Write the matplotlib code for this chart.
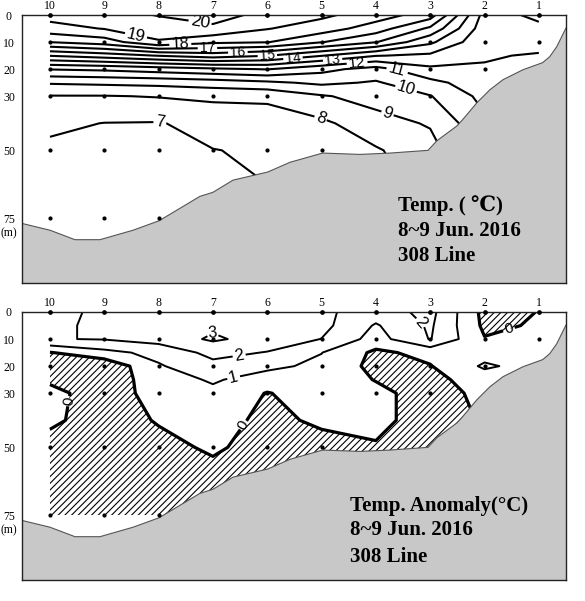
import numpy as np
import matplotlib
matplotlib.use("Agg")
import matplotlib.pyplot as plt
from matplotlib.patches import Polygon

plt.rcParams['hatch.linewidth'] = 0.8
plt.rcParams['hatch.color'] = 'black'

# ---------------- data ----------------
stations = [10, 9, 8, 7, 6, 5, 4, 3, 2, 1]
depths = [0, 5, 10, 15, 20, 25, 30, 40, 50, 60, 75]
depth_ticks = [0, 10, 20, 30, 50, 75]

# temperature profiles (deg C) at the depths above, one list per station
temp_st10 = [19.4, 18.6, 17.02, 14.05, 11.05, 9.1, 7.95, 7.2, 6.8, 6.6, 6.5]
temp_st9 = [19.6, 19.05, 17.5, 14.5, 11.2, 9.2, 7.95, 6.98, 6.8, 6.6, 6.5]
temp_st8 = [20.05, 19.5, 18.9, 15.05, 11.5, 9.3, 8.05, 6.95, 6.8, 6.6, 6.5]
temp_st7 = [20.4, 19.8, 18.2, 15.5, 11.8, 9.5, 8.2, 7.3, 6.98, 6.9, 6.8]
temp_st6 = [19.7, 19.05, 18.05, 15.05, 12.05, 9.8, 8.2, 7.5, 7.1, 7.02, 6.9]
temp_st5 = [19.2, 18.5, 17.05, 14.05, 11.3, 10.2, 8.9, 7.8, 7.3, 7.2, 7.1]
temp_st4 = [18.5, 17.5, 16.05, 13.05, 10.6, 9.9, 9.4, 8.6, 7.9, 7.7, 7.6]
temp_st3 = [17.5, 15.8, 14.2, 12.8, 11.8, 10.7, 9.95, 9.1, 8.6, 8.4, 8.3]
temp_st2 = [12.6, 12.4, 12.2, 12.1, 11.9, 11.6, 11.3, 10.8, 10.5, 10.4, 10.3]
temp_st1 = [13.2, 12.8, 12.4, 11.9, 11.7, 11.5, 11.3, 11.0, 10.8, 10.7, 10.6]

# temperature anomaly profiles (deg C)
anom_st10 = [1.7, 1.8, 1.95, -0.05, -0.8, -0.2, 0.35, 0.2, -0.4, -0.5, -0.5]
anom_st9 = [2.2, 2.2, 2.05, 0.7, -0.8, -0.7, -0.6, -0.5, -0.6, -0.6, -0.5]
anom_st8 = [2.3, 2.4, 2.4, 1.3, 0.9, 0.6, 0.45, 0.08, -0.3, -0.4, -0.4]
anom_st7 = [2.5, 2.8, 3.15, 2.3, 1.7, 1.1, 0.8, 0.5, 0.15, -0.3, -0.4]
anom_st6 = [2.4, 2.5, 2.6, 1.95, 1.2, 0.6, -0.05, -0.3, -0.4, -0.4, -0.4]
anom_st5 = [2.2, 2.3, 1.98, 1.02, 0.8, 0.7, 0.5, 0.2, -0.4, -0.5, -0.5]
anom_st4 = [1.5, 0.9, 0.6, -0.2, -0.3, -0.05, 0.3, 0.3, -0.1, -0.3, -0.3]
anom_st3 = [2.3, 2.15, 2.05, 0.3, -0.05, -0.3, -0.5, -0.5, -0.4, -0.4, -0.4]
anom_st2 = [-0.3, -0.2, 0.05, 0.6, 1.15, 0.5, 0.3, 0.1, 0.05, 0.05, 0.05]
anom_st1 = [0.02, 0.1, 0.5, 0.6, 0.6, 0.5, 0.5, 0.5, 0.5, 0.5, 0.5]

# sampling depths at each station (besides the surface)
sample_depths = {10: [10, 20, 30, 50, 75], 9: [10, 20, 30, 50, 75], 8: [10, 20, 30, 50, 75],
                 7: [10, 20, 30, 50], 6: [10, 20, 30, 50], 5: [10, 20, 30, 50],
                 4: [10, 20, 30], 3: [10, 20, 30], 2: [10, 20], 1: [10]}

# bottom topography (station coordinate, depth m)
bottom_x = [10.515, 10.0, 9.54, 9.08, 8.47, 7.99, 7.24, 7.0, 6.63, 5.99, 5.58, 4.98, 4.29,
            3.74, 3.04, 2.88, 2.51, 2.40, 2.14, 1.90, 1.66, 1.29, 0.93, 0.80, 0.67, 0.50]
bottom_d = [77, 79.5, 83, 83, 79.5, 76, 67, 65.5, 61, 58, 54.4, 51, 51.5,
            51, 50, 46.5, 41, 38.6, 32.4, 27.6, 23.9, 20.2, 17.6, 15.4, 11.7, 4.8]

temp_levels = list(range(7, 21))
temp_label_pos = {20: [(7.24, 3)], 19: [(8.4, 6.3)], 18: [(7.6, 11)], 17: [(7.1, 13.5)],
                  16: [(6.54, 14)], 15: [(6.0, 14.7)], 14: [(5.53, 15.4)], 13: [(4.8, 16)],
                  12: [(4.35, 17)], 11: [(3.6, 20)], 10: [(3.43, 26.5)], 9: [(3.8, 37)],
                  8: [(4.97, 35.6)], 7: [(7.97, 39)]}
temp_label_size = {20: 12.5, 19: 12, 18: 11.5, 17: 10, 16: 10, 15: 10, 14: 10, 13: 10,
                   12: 11, 11: 11.5, 10: 12, 9: 12, 8: 12, 7: 12}
anom_levels = [0, 1, 2, 3]
anom_label_pos = {3: [(7.0, 8.0)], 2: [(6.5, 17.8), (3.32, 6)], 1: [(6.6, 25.5)],
                  0: [(6.47, 41.5), (9.63, 33), (1.53, 7.4)]}
anom_label_size = {3: 11.5, 2: 12, 1: 12, 0: 11}

# ---------------- figure ----------------
W, H = 585, 601
fig = plt.figure(figsize=(W / 100, H / 100), dpi=100)
ax1 = fig.add_axes([22 / W, 1 - 283 / H, (566 - 22) / W, (283 - 15) / H])
ax2 = fig.add_axes([22 / W, 1 - 580 / H, (566 - 22) / W, (580 - 312) / H])

X, Y = np.meshgrid(stations, depths)
T = np.column_stack([temp_st10, temp_st9, temp_st8, temp_st7, temp_st6,
                     temp_st5, temp_st4, temp_st3, temp_st2, temp_st1])
A = np.column_stack([anom_st10, anom_st9, anom_st8, anom_st7, anom_st6,
                     anom_st5, anom_st4, anom_st3, anom_st2, anom_st1])

serif = ['Liberation Serif', 'DejaVu Serif']
sans = ['Liberation Sans', 'DejaVu Sans']


def style_axes(ax):
    ax.set_xlim(10.515, 0.5)
    ax.set_ylim(99, 0)
    ax.xaxis.tick_top()
    ax.set_xticks(stations)
    ax.set_xticklabels([str(s) for s in stations], fontfamily=serif, fontsize=8.5)
    ax.set_yticks(depth_ticks)
    ax.set_yticklabels([str(d) for d in depth_ticks], fontfamily=serif, fontsize=8.5, ha='center')
    ax.tick_params(axis='x', length=0, pad=2.5)
    ax.tick_params(axis='y', length=0, pad=9.4)
    for sp in ax.spines.values():
        sp.set_linewidth(1.0)
        sp.set_color('#222222')
        sp.set_zorder(6)
    ax.text(-0.024, 80.5, '(m)', transform=ax.get_yaxis_transform(), ha='center', va='center',
            fontfamily=serif, fontsize=8.5)
    poly = Polygon(list(zip(bottom_x, bottom_d)) + [(0.3, 4.8), (0.3, 105), (10.6, 105), (10.6, 77)],
                   closed=True, facecolor='#c8c8c8', edgecolor='#555555', linewidth=0.8, zorder=3)
    ax.add_patch(poly)
    for s in stations:
        ax.plot([s] * len(sample_depths[s]), sample_depths[s], 'o', color='k', ms=2.0, zorder=4)
        ax.plot([s], [0], 'o', color='k', ms=2.4, zorder=7, clip_on=False)


def draw_levels(ax, Z, levels, widths, label_pos, label_size):
    for lev in levels:
        cs = ax.contour(X, Y, Z, levels=[lev], colors='k', linewidths=widths.get(lev, 1.5), zorder=2)
        pos = label_pos.get(lev)
        if pos:
            txts = cs.clabel(manual=pos, fmt='%d', fontsize=label_size.get(lev, 11),
                             inline=True, inline_spacing=2)
            for t in txts:
                t.set_fontfamily(sans)


# top panel: temperature
draw_levels(ax1, T, temp_levels, {}, temp_label_pos, temp_label_size)
style_axes(ax1)

# bottom panel: anomaly
ax2.contourf(X, Y, A, levels=[-10, 0], colors='none', hatches=['/////'], zorder=1)
draw_levels(ax2, A, anom_levels, {0: 2.3, 1: 1.4, 2: 1.4, 3: 1.4}, anom_label_pos, anom_label_size)
style_axes(ax2)

for txt, y in [('Temp. ( ℃)', 206), ('8~9 Jun. 2016', 231), ('308 Line', 256)]:
    fig.text(398 / W, 1 - y / H, txt, ha='left', va='center', fontfamily=serif,
             fontweight='bold', fontsize=15, zorder=10)
for txt, y in [('Temp. Anomaly(°C)', 506), ('8~9 Jun. 2016', 530), ('308 Line', 557)]:
    fig.text(350 / W, 1 - y / H, txt, ha='left', va='center', fontfamily=serif,
             fontweight='bold', fontsize=15, zorder=10)

fig.savefig('out.png', dpi=100)
